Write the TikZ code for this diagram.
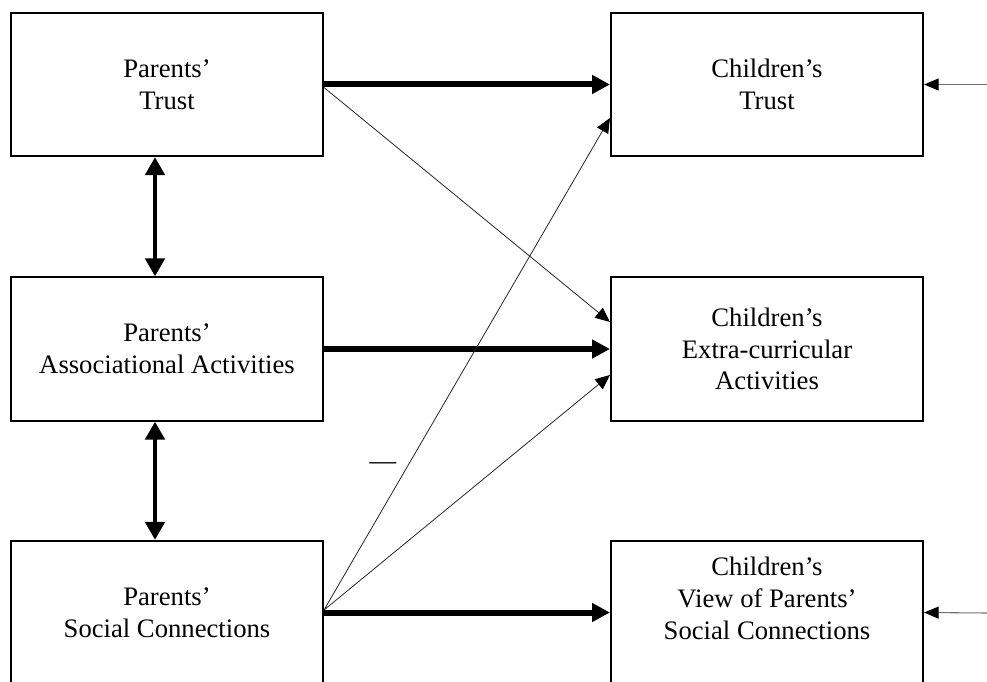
\documentclass[tikz,border=0pt]{standalone}
\usepackage{fontspec}
\setmainfont{Liberation Serif}
\usetikzlibrary{arrows.meta,calc}
\begin{document}
\begin{tikzpicture}[x=0.75pt,y=-0.75pt,
  box/.style={draw,line width=1.5pt,minimum width=234pt,minimum height=107.5pt,inner sep=0pt,align=center,font=\fontsize{20}{23.8}\selectfont},
  lbl/.style={align=center,inner sep=0pt,font=\fontsize{20}{23.8}\selectfont},
  strong/.style={line width=4.5pt,-{Triangle[length=13.5pt,width=13.5pt]}},
  weak/.style={line width=0.6pt,black!85,-{Triangle[length=11pt,width=9.5pt,color=black,fill=black]}},
  dbl/.style={line width=3pt,{Triangle[length=13.5pt,width=14.5pt]}-{Triangle[length=13.5pt,width=14.5pt]}},
  ext/.style={line width=0.8pt,black!55,-{Triangle[length=11pt,width=9pt,color=black,fill=black]}}]
\clip (0,0) rectangle (987,681);
\node[box] (pt) at (167,84.5) {Parents’\\Trust};
\node[box] (pa) at (167,349) {Parents’\\Associational Activities};
\node[box] (ps) at (167,612.5) {Parents’\\Social Connections};
\node[box] (ct) at (767,84.5) {Children’s\\Trust};
\node[box] (ce) at (767,349) {Children’s\\Extra-curricular\\Activities};
\node[box] (cv) at (767,612.5) {};
\node[lbl] (cvt) at ($(cv.center)+(0,-14)$) {Children’s\\View of Parents’\\Social Connections};
\draw[strong] (pt.east) -- (ct.west);
\draw[strong] (pa.east) -- (ce.west);
\draw[strong] (ps.east) -- (cv.west);
\draw[weak] ($(pt.east)+(0,3)$) -- ($(ce.west)+(0,-27)$);
\draw[weak] ($(ps.east)+(0,-2.5)$) -- ($(ct.west)+(0,33.5)$);
\draw[weak] ($(ps.east)+(0,-2.5)$) -- ($(ce.west)+(0,26)$);
\draw[dbl] ($(pt.south)+(-12,0)$) -- ($(pa.north)+(-12,0)$);
\draw[dbl] ($(pa.south)+(-12,0)$) -- ($(ps.north)+(-12,0)$);
\coordinate (in1) at (987,84.5);
\coordinate (in2) at (987,613);
\draw[ext] (in1) -- (ct.east);
\draw[ext] (in2) -- (cv.east);
\node[lbl,anchor=base] (dash) at (383,469) {—};
\end{tikzpicture}
\end{document}
